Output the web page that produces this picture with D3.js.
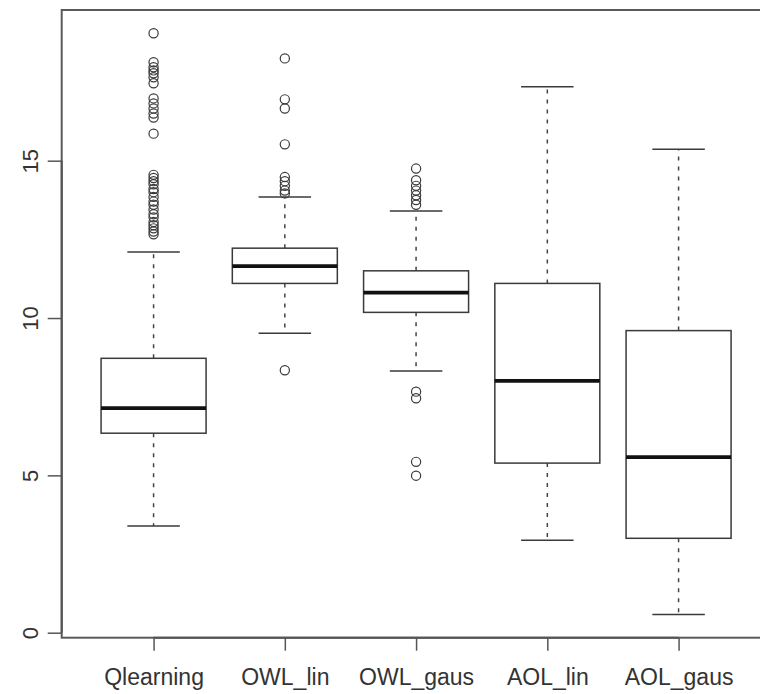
<!DOCTYPE html>
<html>
<head>
<meta charset="utf-8">
<script src="https://cdn.jsdelivr.net/npm/d3@7"></script>
<style>
  html, body { margin: 0; padding: 0; background: #fff; }
  svg { display: block; }
  text { font-family: "Liberation Sans", Arial, Helvetica, sans-serif; fill: #333; }
</style>
</head>
<body>
<svg id="chart" width="760" height="694"></svg>
<script>
// ---- Data ----
const categories = ["Qlearning", "OWL_lin", "OWL_gaus", "AOL_lin", "AOL_gaus"];
const whiskerLow  = [3.39, 9.52, 8.32, 2.94, 0.58];
const q1          = [6.34, 11.10, 10.18, 5.39, 3.00];
const medians     = [7.14, 11.65, 10.81, 8.00, 5.58];
const q3          = [8.72, 12.22, 11.50, 11.10, 9.60];
const whiskerHigh = [12.10, 13.85, 13.40, 17.35, 15.36];
const outliers = [
  [19.05, 18.13, 17.97, 17.87, 17.78, 17.65, 17.46, 16.98, 16.82, 16.66, 16.50, 16.37, 15.86,
   14.55, 14.45, 14.35, 14.25, 14.10, 14.00, 13.85, 13.70, 13.60, 13.45, 13.30, 13.20, 13.05,
   12.95, 12.85, 12.75, 12.66],
  [18.25, 16.95, 16.66, 15.52, 14.48, 14.35, 14.20, 14.05, 13.96, 8.34],
  [14.75, 14.38, 14.20, 14.05, 13.90, 13.75, 13.60, 7.66, 7.45, 5.43, 4.99],
  [],
  []
];
const yTicks = [0, 5, 10, 15];

// ---- Layout ----
const svg = d3.select("#chart");
const plotLeft = 61.7, plotTop = 10, plotBottom = 637.7;
const unit = 131.25;
const x = d3.scaleLinear().domain([0.3, 5.7]).range([plotLeft, plotLeft + 5.4 * unit]);

const allVals = whiskerLow.concat(whiskerHigh, outliers.flat());
const dmin = d3.min(allVals), dmax = d3.max(allVals);
const r = dmax - dmin;
const y = d3.scaleLinear().domain([dmin - 0.04 * r, dmax + 0.04 * r]).range([plotBottom, plotTop]);

const lineColor = "#3a3a3a";
const boxW = 0.8 * unit, capW = 0.4 * unit;

const data = categories.map((c, i) => ({
  name: c, pos: i + 1,
  lo: whiskerLow[i], q1: q1[i], med: medians[i], q3: q3[i], hi: whiskerHigh[i],
  out: outliers[i]
}));

const g = svg.append("g");

// whiskers (dashed)
g.selectAll(".wlo").data(data).join("line")
  .attr("x1", d => x(d.pos)).attr("x2", d => x(d.pos))
  .attr("y1", d => y(d.q1)).attr("y2", d => y(d.lo))
  .attr("stroke", "#444").attr("stroke-width", 1.5).attr("stroke-dasharray", "4,6");
g.selectAll(".whi").data(data).join("line")
  .attr("x1", d => x(d.pos)).attr("x2", d => x(d.pos))
  .attr("y1", d => y(d.q3)).attr("y2", d => y(d.hi))
  .attr("stroke", "#444").attr("stroke-width", 1.5).attr("stroke-dasharray", "4,6");

// caps
["lo", "hi"].forEach(k => {
  g.selectAll(".cap" + k).data(data).join("line")
    .attr("x1", d => x(d.pos) - capW / 2).attr("x2", d => x(d.pos) + capW / 2)
    .attr("y1", d => y(d[k])).attr("y2", d => y(d[k]))
    .attr("stroke", lineColor).attr("stroke-width", 1.5);
});

// boxes
g.selectAll(".box").data(data).join("rect")
  .attr("x", d => x(d.pos) - boxW / 2).attr("width", boxW)
  .attr("y", d => y(d.q3)).attr("height", d => y(d.q1) - y(d.q3))
  .attr("fill", "#fff").attr("stroke", lineColor).attr("stroke-width", 1.5);

// medians
g.selectAll(".med").data(data).join("line")
  .attr("x1", d => x(d.pos) - boxW / 2).attr("x2", d => x(d.pos) + boxW / 2)
  .attr("y1", d => y(d.med)).attr("y2", d => y(d.med))
  .attr("stroke", "#111").attr("stroke-width", 3.8);

// outliers
data.forEach(d => {
  g.selectAll(null).data(d.out).join("circle")
    .attr("cx", x(d.pos)).attr("cy", v => y(v)).attr("r", 4.6)
    .attr("fill", "none").attr("stroke", lineColor).attr("stroke-width", 1.2);
});

// plot frame
svg.append("rect")
  .attr("x", plotLeft).attr("y", plotTop)
  .attr("width", x.range()[1] - plotLeft).attr("height", plotBottom - plotTop)
  .attr("fill", "none").attr("stroke", "#5a5a5a").attr("stroke-width", 2);

// y axis
const yAxis = d3.axisLeft(y).tickValues(yTicks).tickSize(14).tickPadding(0).tickFormat(d3.format("d"));
const ya = svg.append("g").attr("transform", `translate(${plotLeft},0)`).call(yAxis);
ya.select(".domain").attr("stroke", "#555").attr("stroke-width", 2)
  .attr("d", `M0,${y(yTicks[yTicks.length-1])}V${y(yTicks[0])}`);
ya.selectAll(".tick line").attr("stroke", "#555").attr("stroke-width", 1.5);
ya.selectAll(".tick text")
  .attr("x", 0).attr("y", 0).attr("dy", null)
  .attr("transform", "translate(-31,0) rotate(-90)")
  .attr("text-anchor", "middle").attr("dominant-baseline", "central")
  .style("font-size", "22px").style("fill", "#333")
  .style("font-family", "'Liberation Sans', Arial, sans-serif");

// x axis
const xAxis = d3.axisBottom(x).tickValues(data.map(d => d.pos)).tickSize(13).tickPadding(0)
  .tickFormat((d, i) => categories[i]);
const xa = svg.append("g").attr("transform", `translate(0,${plotBottom})`).call(xAxis);
xa.select(".domain").attr("stroke", "#555").attr("stroke-width", 2)
  .attr("d", `M${x(1)},0H${x(5)}`);
xa.selectAll(".tick line").attr("stroke", "#555").attr("stroke-width", 1.5);
xa.selectAll(".tick text")
  .attr("y", 47).attr("dy", null)
  .style("font-size", "23px").style("fill", "#333")
  .style("font-family", "'Liberation Sans', Arial, sans-serif");
</script>
</body>
</html>
